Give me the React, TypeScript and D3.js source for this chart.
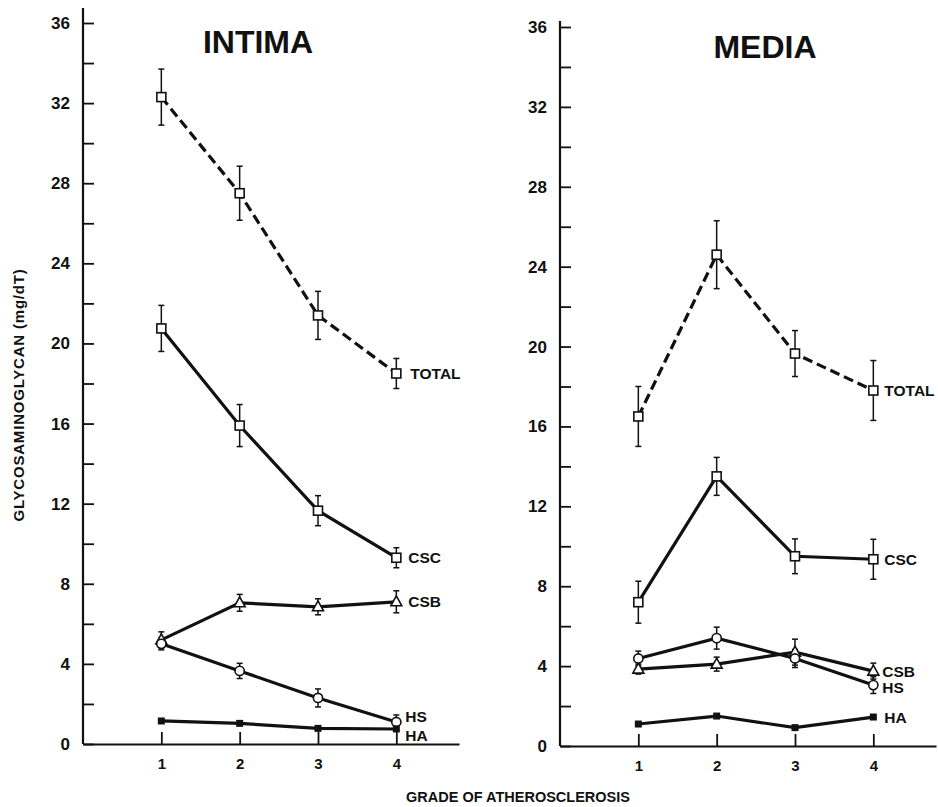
import * as d3 from 'd3';
import { useEffect, useRef } from 'react';

// grades on the x axis, tick values on the y axis
const grades = [1, 2, 3, 4];
const yTickValues = d3.range(0, 37, 2);
const yLabelValues = d3.range(0, 37, 4);

// INTIMA panel (mg/dT), mean and error bar half-width
const intimaTotal = [32.3, 27.5, 21.4, 18.5];
const intimaTotalErr = [1.4, 1.35, 1.2, 0.75];
const intimaCSC = [20.75, 15.9, 11.65, 9.3];
const intimaCSCErr = [1.15, 1.05, 0.75, 0.5];
const intimaCSB = [5.2, 7.05, 6.85, 7.1];
const intimaCSBErr = [0.4, 0.42, 0.4, 0.55];
const intimaHS = [5.0, 3.65, 2.3, 1.1];
const intimaHSErr = [0.3, 0.38, 0.45, 0.35];
const intimaHA = [1.15, 1.03, 0.78, 0.75];

// MEDIA panel
const mediaTotal = [16.5, 24.6, 19.65, 17.8];
const mediaTotalErr = [1.5, 1.7, 1.15, 1.5];
const mediaCSC = [7.2, 13.5, 9.5, 9.35];
const mediaCSCErr = [1.05, 0.95, 0.87, 1.0];
const mediaCSB = [3.85, 4.1, 4.7, 3.75];
const mediaCSBErr = [0.25, 0.35, 0.65, 0.4];
const mediaHS = [4.38, 5.4, 4.38, 3.05];
const mediaHSErr = [0.37, 0.55, 0.45, 0.42];
const mediaHA = [1.1, 1.5, 0.92, 1.45];

type Series = {
    name: string;
    values: number[];
    errors: number[] | null;
    marker: 'square' | 'circle' | 'triangle' | 'filled';
    dashed?: boolean;
    labelDx?: number;
    labelDy?: number;
};

const FONT = '"Liberation Sans", Arial, Helvetica, sans-serif';

const panels = [
    {
        title: 'INTIMA',
        left: 83, right: 459,
        zeroY: 744, topY: 23, axisTop: 8,
        titleX: 258, titleY: 53,
        series: [
            { name: 'TOTAL', values: intimaTotal, errors: intimaTotalErr, marker: 'square', dashed: true, labelDx: 14 },
            { name: 'CSC', values: intimaCSC, errors: intimaCSCErr, marker: 'square', labelDx: 12 },
            { name: 'CSB', values: intimaCSB, errors: intimaCSBErr, marker: 'triangle', labelDx: 12 },
            { name: 'HS', values: intimaHS, errors: intimaHSErr, marker: 'circle', labelDx: 9, labelDy: -6 },
            { name: 'HA', values: intimaHA, errors: null, marker: 'filled', labelDx: 9, labelDy: 6 },
        ] as Series[],
    },
    {
        title: 'MEDIA',
        left: 560, right: 936,
        zeroY: 746, topY: 27, axisTop: 21,
        titleX: 765, titleY: 58,
        series: [
            { name: 'TOTAL', values: mediaTotal, errors: mediaTotalErr, marker: 'square', dashed: true, labelDx: 11 },
            { name: 'CSC', values: mediaCSC, errors: mediaCSCErr, marker: 'square', labelDx: 11 },
            { name: 'CSB', values: mediaCSB, errors: mediaCSBErr, marker: 'triangle', labelDx: 9 },
            { name: 'HS', values: mediaHS, errors: mediaHSErr, marker: 'circle', labelDx: 9, labelDy: 2 },
            { name: 'HA', values: mediaHA, errors: null, marker: 'filled', labelDx: 11 },
        ] as Series[],
    },
];

export default function App() {
    const svgRef = useRef<SVGSVGElement | null>(null);

    useEffect(() => {
        if (!svgRef.current) return;
        const svg = d3.select(svgRef.current);
        svg.selectAll('*').remove();

        svg.append('rect').attr('width', 938).attr('height', 807).attr('fill', '#fff');

        panels.forEach((p) => {
            const x = d3.scaleLinear().domain([0, 4.8]).range([p.left, p.right]);
            const y = d3.scaleLinear().domain([0, 36]).range([p.zeroY, p.topY]);
            const g = svg.append('g').attr('font-family', FONT).attr('font-weight', 'bold');

            // y axis: ticks pointing inward, labels every 4
            const yAxis = d3.axisLeft(y)
                .tickValues(yTickValues)
                .tickSizeInner(-11)
                .tickSizeOuter(0)
                .tickPadding(13)
                .tickFormat((d) => (yLabelValues.includes(d as number) ? String(d) : ''));
            g.append('g')
                .attr('transform', `translate(${x(0)},0)`)
                .call(yAxis)
                .call((a) => a.select('.domain').remove())
                .call((a) => a.selectAll('line').attr('stroke', '#111').attr('stroke-width', 1.8))
                .call((a) => a.selectAll('text')
                    .attr('fill', '#111')
                    .attr('font-size', 17)
                    .attr('font-family', FONT)
                    .attr('font-weight', 'bold'));
            g.append('line')
                .attr('x1', x(0)).attr('x2', x(0))
                .attr('y1', p.axisTop).attr('y2', p.zeroY)
                .attr('stroke', '#111').attr('stroke-width', 2.2);

            // x axis
            const xAxis = d3.axisBottom(x)
                .tickValues(grades)
                .tickSizeInner(-12)
                .tickSizeOuter(0)
                .tickPadding(14)
                .tickFormat((d) => String(d));
            g.append('g')
                .attr('transform', `translate(0,${p.zeroY})`)
                .call(xAxis)
                .call((a) => a.select('.domain').attr('stroke', '#111').attr('stroke-width', 2.2))
                .call((a) => a.selectAll('line').attr('stroke', '#111').attr('stroke-width', 1.8))
                .call((a) => a.selectAll('text')
                    .attr('fill', '#111')
                    .attr('font-size', 15)
                    .attr('font-family', FONT)
                    .attr('font-weight', 'bold'));

            // title
            g.append('text')
                .attr('x', p.titleX).attr('y', p.titleY)
                .attr('text-anchor', 'middle')
                .attr('font-size', 32)
                .attr('font-weight', 900)
                .attr('fill', '#111')
                .text(p.title);

            const line = d3.line<number>()
                .x((_, i) => x(grades[i]))
                .y((d) => y(d));

            // lines
            p.series.forEach((s) => {
                g.append('path')
                    .datum(s.values)
                    .attr('d', line)
                    .attr('fill', 'none')
                    .attr('stroke', '#111')
                    .attr('stroke-width', 3.2)
                    .attr('stroke-dasharray', s.dashed ? '10,5' : null);
            });

            // error bars
            p.series.forEach((s) => {
                if (!s.errors) return;
                const eg = g.append('g').attr('stroke', '#111').attr('stroke-width', 1.5);
                s.values.forEach((v, i) => {
                    const cx = x(grades[i]);
                    const e = s.errors![i];
                    eg.append('line').attr('x1', cx).attr('x2', cx).attr('y1', y(v + e)).attr('y2', y(v - e));
                    eg.append('line').attr('x1', cx - 3).attr('x2', cx + 3).attr('y1', y(v + e)).attr('y2', y(v + e));
                    eg.append('line').attr('x1', cx - 3).attr('x2', cx + 3).attr('y1', y(v - e)).attr('y2', y(v - e));
                });
            });

            // markers
            p.series.forEach((s) => {
                s.values.forEach((v, i) => {
                    const cx = x(grades[i]);
                    const cy = y(v);
                    if (s.marker === 'square') {
                        g.append('rect').attr('x', cx - 4.5).attr('y', cy - 4.5).attr('width', 9).attr('height', 9)
                            .attr('fill', '#fff').attr('stroke', '#111').attr('stroke-width', 1.6);
                    } else if (s.marker === 'circle') {
                        g.append('circle').attr('cx', cx).attr('cy', cy).attr('r', 4.6)
                            .attr('fill', '#fff').attr('stroke', '#111').attr('stroke-width', 1.6);
                    } else if (s.marker === 'triangle') {
                        g.append('path')
                            .attr('d', `M${cx},${cy - 6}L${cx + 5.5},${cy + 4}L${cx - 5.5},${cy + 4}Z`)
                            .attr('fill', '#fff').attr('stroke', '#111').attr('stroke-width', 1.6);
                    } else {
                        g.append('rect').attr('x', cx - 3.5).attr('y', cy - 3.5).attr('width', 7).attr('height', 7)
                            .attr('fill', '#111');
                    }
                });

                // series label at the last point
                const last = s.values[s.values.length - 1];
                g.append('text')
                    .attr('x', x(grades[grades.length - 1]) + (s.labelDx ?? 12))
                    .attr('y', y(last) + (s.labelDy ?? 0))
                    .attr('dy', '0.36em')
                    .attr('font-size', 15.5)
                    .attr('fill', '#111')
                    .text(s.name);
            });
        });

        // shared axis titles
        svg.append('text')
            .attr('transform', 'translate(24,395) rotate(-90)')
            .attr('text-anchor', 'middle')
            .attr('font-family', FONT)
            .attr('font-weight', 'bold')
            .attr('font-size', 15)
            .attr('letter-spacing', 0.8)
            .attr('fill', '#111')
            .text('GLYCOSAMINOGLYCAN (mg/dT)');

        svg.append('text')
            .attr('x', 518).attr('y', 802)
            .attr('text-anchor', 'middle')
            .attr('font-family', FONT)
            .attr('font-weight', 'bold')
            .attr('font-size', 14.5)
            .attr('fill', '#111')
            .text('GRADE OF ATHEROSCLEROSIS');
    }, []);

    return (
        <svg ref={svgRef} width={938} height={807}
            style={{ position: 'absolute', left: 0, top: 0, background: '#fff' }} />
    );
}
